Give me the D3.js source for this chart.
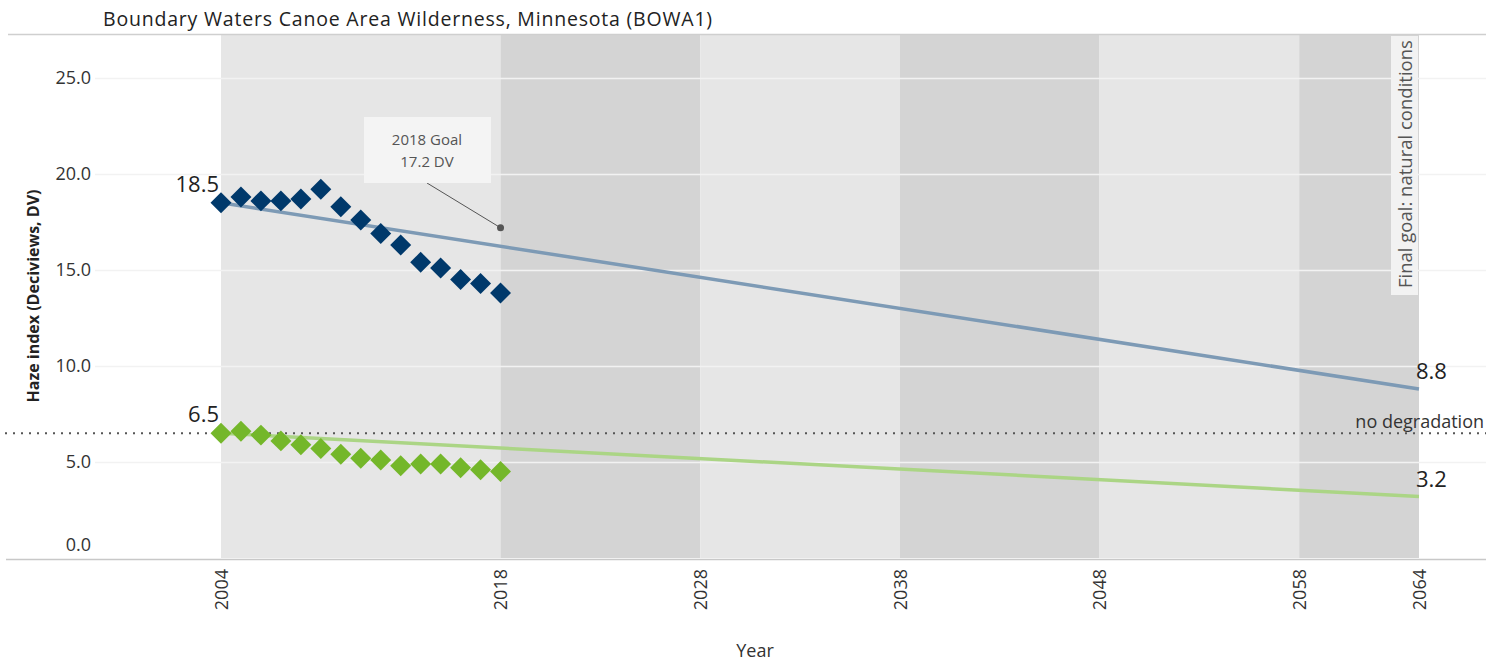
<!DOCTYPE html>
<html>
<head>
<meta charset="utf-8">
<script src="https://cdn.jsdelivr.net/npm/d3@7"></script>
<style>
  body { margin: 0; background: #fff; }
  svg text { font-family: "Open Sans", "DejaVu Sans", sans-serif; }
</style>
</head>
<body>
<div class="chart"></div>
<script>
var years = [2004, 2005, 2006, 2007, 2008, 2009, 2010, 2011, 2012, 2013, 2014, 2015, 2016, 2017, 2018];
var haziest = [18.5, 18.8, 18.6, 18.6, 18.7, 19.2, 18.3, 17.6, 16.9, 16.3, 15.4, 15.1, 14.5, 14.3, 13.8];
var clearest = [6.5, 6.6, 6.4, 6.1, 5.9, 5.7, 5.4, 5.2, 5.1, 4.8, 4.9, 4.9, 4.7, 4.6, 4.5];
var glideHazy = [[2004, 18.5], [2064, 8.8]];
var glideClear = [[2004, 6.5], [2064, 3.2]];
var bandBreaks = [2004, 2018, 2028, 2038, 2048, 2058, 2064];
var yTicks = [0, 5, 10, 15, 20, 25];
var goal2018 = {year: 2018, value: 17.2};
var noDegradation = 6.5;

var width = 1486, height = 661;

var svg = d3.select(".chart").append("svg")
    .attr("width", width)
    .attr("height", height);

var x = d3.scaleLinear().domain([2004, 2064]).range([221, 1419]);
var y = d3.scaleLinear().domain([0, 25]).range([558, 78]);

var plotTop = 35, plotBottom = 558;

// alternating decade bands
svg.append("g").selectAll("rect")
    .data(d3.pairs(bandBreaks))
  .enter().append("rect")
    .attr("x", function(d) { return x(d[0]); })
    .attr("width", function(d) { return x(d[1]) - x(d[0]); })
    .attr("y", plotTop)
    .attr("height", plotBottom - plotTop)
    .attr("fill", function(d, i) { return i % 2 ? "#d4d4d4" : "#e6e6e6"; });

// horizontal grid
svg.append("g").selectAll("line")
    .data(yTicks.slice(1))
  .enter().append("line")
    .attr("x1", 95).attr("x2", width)
    .attr("y1", function(d) { return Math.round(y(d)) + 0.5; })
    .attr("y2", function(d) { return Math.round(y(d)) + 0.5; })
    .attr("stroke", "#f2f2f2")
    .attr("stroke-width", 1.5);

// title + rule
svg.append("text")
    .attr("x", 103).attr("y", 26)
    .attr("font-size", 19.5)
    .attr("letter-spacing", 0.8)
    .attr("fill", "#222")
    .text("Boundary Waters Canoe Area Wilderness, Minnesota (BOWA1)");
svg.append("line")
    .attr("x1", 8).attr("x2", width)
    .attr("y1", 34.5).attr("y2", 34.5)
    .attr("stroke", "#cfcfcf").attr("stroke-width", 1.5);

// y axis
var yAxis = svg.append("g")
    .attr("transform", "translate(91,0)")
    .call(d3.axisLeft(y).tickValues(yTicks).tickFormat(d3.format(".1f")).tickSize(0).tickPadding(0));
yAxis.select(".domain").remove();
yAxis.selectAll("text")
    .attr("font-size", 18)
    .attr("fill", "#333")
    .attr("dy", function(d) { return d === 0 ? "-0.4em" : "0.32em"; });

svg.append("text")
    .attr("transform", "translate(39," + 296 + ")rotate(-90)")
    .attr("text-anchor", "middle")
    .attr("font-size", 16)
    .attr("font-weight", "bold")
    .attr("fill", "#222")
    .text("Haze index (Deciviews, DV)");

// x axis
var xAxis = svg.append("g")
    .attr("transform", "translate(0," + 559 + ")")
    .call(d3.axisBottom(x).tickValues(bandBreaks).tickFormat(d3.format("d")).tickSize(0).tickPadding(0));
xAxis.select(".domain").remove();
xAxis.selectAll("text")
    .attr("font-size", 18)
    .attr("fill", "#333")
    .attr("text-anchor", "end")
    .attr("transform", "rotate(-90)")
    .attr("x", -10)
    .attr("y", 0)
    .attr("dy", "0.35em");
svg.append("line")
    .attr("x1", 6).attr("x2", width)
    .attr("y1", 559.5).attr("y2", 559.5)
    .attr("stroke", "#c8c8c8").attr("stroke-width", 1.5);

svg.append("text")
    .attr("x", 755).attr("y", 657)
    .attr("text-anchor", "middle")
    .attr("font-size", 18)
    .attr("fill", "#333")
    .text("Year");

// no degradation reference
svg.append("line")
    .attr("x1", 5).attr("x2", width)
    .attr("y1", y(noDegradation)).attr("y2", y(noDegradation))
    .attr("stroke", "#555")
    .attr("stroke-width", 2)
    .attr("stroke-dasharray", "2,6");
svg.append("text")
    .attr("x", width - 2).attr("y", y(noDegradation) - 5)
    .attr("text-anchor", "end")
    .attr("font-size", 18)
    .attr("fill", "#333")
    .text("no degradation");

// glidepaths
var line = d3.line()
    .x(function(d) { return x(d[0]); })
    .y(function(d) { return y(d[1]); });

svg.append("path")
    .datum(glideHazy)
    .attr("d", line)
    .attr("fill", "none")
    .attr("stroke", "#7d9ab5")
    .attr("stroke-width", 3.5);
svg.append("path")
    .datum(glideClear)
    .attr("d", line)
    .attr("fill", "none")
    .attr("stroke", "#abd585")
    .attr("stroke-width", 3.5);

// diamonds
var diamond = d3.symbol().type(d3.symbolSquare).size(220);

svg.append("g").selectAll("path")
    .data(d3.zip(years, haziest))
  .enter().append("path")
    .attr("d", diamond)
    .attr("transform", function(d) { return "translate(" + x(d[0]) + "," + y(d[1]) + ")rotate(45)"; })
    .attr("fill", "#00396b");
svg.append("g").selectAll("path")
    .data(d3.zip(years, clearest))
  .enter().append("path")
    .attr("d", diamond)
    .attr("transform", function(d) { return "translate(" + x(d[0]) + "," + y(d[1]) + ")rotate(45)"; })
    .attr("fill", "#74b72a");

// end labels
function endLabel(px, py, anchor, txt) {
  svg.append("text")
      .attr("x", px).attr("y", py)
      .attr("text-anchor", anchor)
      .attr("font-size", 22)
      .attr("fill", "#222")
      .text(txt);
}
endLabel(x(2004) - 2, y(glideHazy[0][1]) - 11, "end", d3.format(".1f")(glideHazy[0][1]));
endLabel(x(2004) - 2, y(glideClear[0][1]) - 11, "end", d3.format(".1f")(glideClear[0][1]));
endLabel(x(2064) - 3, y(glideHazy[1][1]) - 10, "start", d3.format(".1f")(glideHazy[1][1]));
endLabel(x(2064) - 3, y(glideClear[1][1]) - 10, "start", d3.format(".1f")(glideClear[1][1]));

// 2018 goal annotation
var gx = x(goal2018.year), gy = y(goal2018.value);
svg.append("line")
    .attr("x1", 427).attr("y1", 183)
    .attr("x2", gx).attr("y2", gy)
    .attr("stroke", "#555").attr("stroke-width", 1);
svg.append("circle")
    .attr("cx", gx).attr("cy", gy).attr("r", 3.5)
    .attr("fill", "#555");
svg.append("rect")
    .attr("x", 364).attr("y", 117)
    .attr("width", 127).attr("height", 66)
    .attr("fill", "#f4f4f4");
svg.append("text")
    .attr("x", 427).attr("y", 145)
    .attr("text-anchor", "middle")
    .attr("font-size", 15)
    .attr("fill", "#555")
    .text(goal2018.year + " Goal");
svg.append("text")
    .attr("x", 427).attr("y", 167)
    .attr("text-anchor", "middle")
    .attr("font-size", 15)
    .attr("fill", "#555")
    .text(goal2018.value + " DV");

// final goal label
svg.append("rect")
    .attr("x", 1391).attr("y", 36)
    .attr("width", 27).attr("height", 259)
    .attr("fill", "#f2f2f2");
svg.append("text")
    .attr("transform", "translate(1412,288)rotate(-90)")
    .attr("font-size", 18.5)
    .attr("fill", "#555")
    .text("Final goal:  natural conditions");
</script>
</body>
</html>
